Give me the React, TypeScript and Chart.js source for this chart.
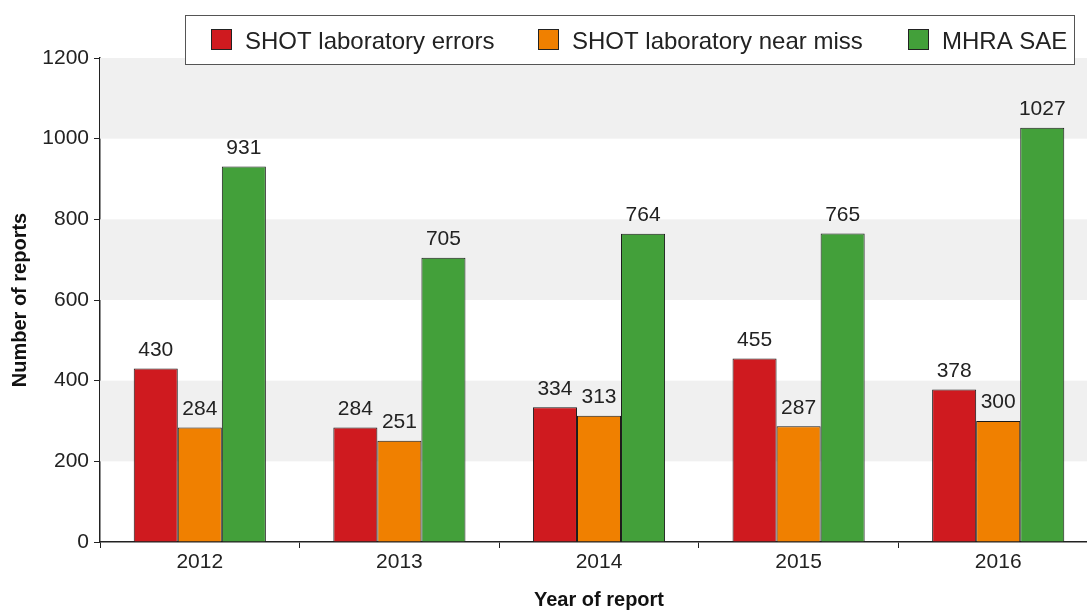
import React, { useEffect, useRef } from "react";
import { Chart, registerables } from "chart.js";

Chart.register(...registerables);

const years = ["2012", "2013", "2014", "2015", "2016"];
const labErrors = [430, 284, 334, 455, 378];
const labNearMiss = [284, 251, 313, 287, 300];
const mhraSae = [931, 705, 764, 765, 1027];
const seriesNames = ["SHOT laboratory errors", "SHOT laboratory near miss", "MHRA SAE"];
const seriesColors = ["#CF1A1F", "#F08000", "#43A03A"];
const bandRanges = [[200, 400], [600, 800], [1000, 1200]];

const FONT = "'Liberation Sans', Arial, sans-serif";

const bandsPlugin = {
  id: "bands",
  beforeDatasetsDraw(chart: any) {
    const { ctx, chartArea, scales } = chart;
    const y = scales.y;
    ctx.save();
    ctx.fillStyle = "#F0F0F0";
    for (const [a, b] of bandRanges) {
      const y1 = y.getPixelForValue(b);
      const y2 = y.getPixelForValue(a);
      ctx.fillRect(chartArea.left, y1, chartArea.right - chartArea.left, y2 - y1);
    }
    ctx.restore();
  },
};

const labelsPlugin = {
  id: "valueLabels",
  afterDatasetsDraw(chart: any) {
    const { ctx } = chart;
    ctx.save();
    ctx.font = `21px ${FONT}`;
    ctx.fillStyle = "#222";
    ctx.textAlign = "center";
    ctx.textBaseline = "bottom";
    chart.data.datasets.forEach((ds: any, i: number) => {
      const meta = chart.getDatasetMeta(i);
      meta.data.forEach((el: any, j: number) => {
        ctx.fillText(String(ds.data[j]), el.x, el.y - 8);
      });
    });
    ctx.restore();
  },
};

const legendPlugin = {
  id: "boxLegend",
  afterDraw(chart: any) {
    const { ctx } = chart;
    ctx.save();
    ctx.fillStyle = "#fff";
    ctx.fillRect(185, 15, 890, 49);
    ctx.strokeStyle = "#555";
    ctx.lineWidth = 1;
    ctx.strokeRect(185.5, 15.5, 889, 49);
    const itemX = [211, 538, 908];
    ctx.font = `24px ${FONT}`;
    ctx.textBaseline = "middle";
    ctx.textAlign = "left";
    seriesNames.forEach((name, i) => {
      ctx.fillStyle = seriesColors[i];
      ctx.fillRect(itemX[i], 29, 21, 21);
      ctx.strokeStyle = "#222";
      ctx.strokeRect(itemX[i] + 0.5, 29.5, 20, 20);
      ctx.fillStyle = "#222";
      ctx.fillText(name, itemX[i] + 34, 42);
    });
    ctx.restore();
  },
};

export default function App() {
  const ref = useRef<HTMLCanvasElement>(null);
  useEffect(() => {
    if (!ref.current) return;
    const data = [labErrors, labNearMiss, mhraSae];
    const chart = new Chart(ref.current, {
      type: "bar",
      data: {
        labels: years,
        datasets: data.map((d, i) => ({
          label: seriesNames[i],
          data: d,
          backgroundColor: seriesColors[i],
          borderColor: "#1a1a1a",
          borderWidth: 1,
          categoryPercentage: 0.662,
          barPercentage: 1.0,
        })),
      },
      options: {
        responsive: false,
        animation: false,
        layout: { padding: { top: 58, right: 2, left: 0, bottom: 0 } },
        plugins: {
          legend: { display: false },
          tooltip: { enabled: false },
        },
        scales: {
          x: {
            grid: {
              offset: true,
              drawOnChartArea: false,
              drawTicks: true,
              tickLength: 6,
              color: "#222",
            },
            border: { display: true, color: "#222", width: 1.5 },
            ticks: { color: "#222", font: { family: FONT, size: 21 }, padding: 2 },
            title: {
              display: true,
              text: "Year of report",
              color: "#111",
              font: { family: FONT, size: 20, weight: "bold", lineHeight: 1 },
              padding: 0,
            },
            afterFit: (s: any) => {
              s.height = 68;
            },
          },
          y: {
            min: 0,
            max: 1200,
            ticks: {
              stepSize: 200,
              color: "#222",
              font: { family: FONT, size: 21 },
              padding: 5,
              callback: (v: any) => String(v),
            },
            grid: {
              drawOnChartArea: false,
              drawTicks: true,
              tickLength: 6,
              color: "#222",
            },
            border: { display: true, color: "#222", width: 1.5 },
            title: {
              display: true,
              text: "Number of reports",
              color: "#111",
              font: { family: FONT, size: 20, weight: "bold" },
              padding: { top: 8, bottom: 0 },
            },
            afterFit: (s: any) => {
              s.width = 100;
            },
          },
        },
      },
      plugins: [bandsPlugin, labelsPlugin, legendPlugin],
    });
    return () => chart.destroy();
  }, []);
  return (
    <div style={{ position: "fixed", left: 0, top: 0, width: 1087, height: 610, overflow: "hidden", background: "#fff" }}>
      <canvas ref={ref} width={1100} height={610} style={{ display: "block", width: 1100, height: 610 }} />
    </div>
  );
}
